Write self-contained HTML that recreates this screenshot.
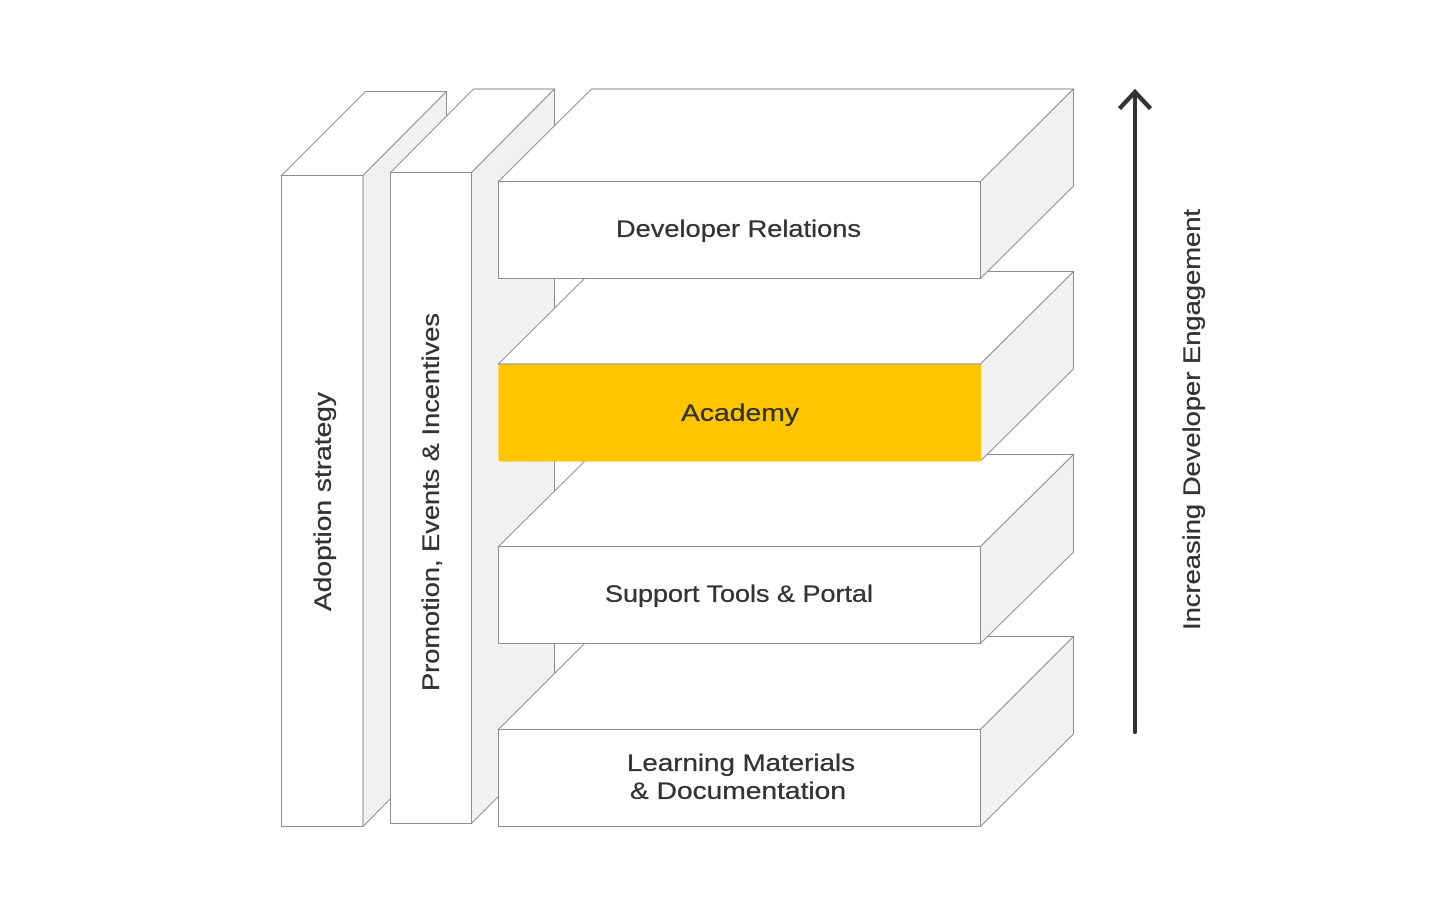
<!DOCTYPE html>
<html lang="en">
<head>
<meta charset="utf-8">
<title>Developer Engagement Diagram</title>
<style>
html,body{margin:0;padding:0;background:#fff;width:1440px;height:900px;overflow:hidden}
svg{display:block}
.f{fill:#fff;stroke:#8e8e8e;stroke-width:1}
.s{fill:#f1f1f1;stroke:#8e8e8e;stroke-width:1;stroke-linejoin:round}
text{font-family:"Liberation Sans",sans-serif;font-size:24px;fill:#333;stroke:#333;stroke-width:.3}
</style>
</head>
<body>
<svg width="1440" height="900" viewBox="0 0 1440 900" xmlns="http://www.w3.org/2000/svg">
<!-- Column 1 -->
<polygon class="f" points="281.5,175.5 365.5,91.5 446.5,91.5 363,175.5"/>
<polygon class="s" points="363,175.5 446.5,91.5 446.5,742 363,826.5"/>
<rect class="f" x="281.5" y="175.5" width="81.5" height="651"/>
<!-- Column 2 -->
<polygon class="f" points="390.5,172.5 473.5,89 554.5,89 471.5,172.5"/>
<polygon class="s" points="471.5,172.5 554.5,89 554.5,740 471.5,823.5"/>
<rect class="f" x="390.5" y="172.5" width="81" height="651"/>
<!-- Box 4 -->
<polygon class="f" points="498.5,729.5 591.5,636.5 1073.5,636.5 980.5,729.5"/>
<polygon class="s" points="980.5,729.5 1073.5,636.5 1073.5,734 980.5,826.5"/>
<rect class="f" x="498.5" y="729.5" width="482" height="97"/>
<!-- Box 3 -->
<polygon class="f" points="498.5,546.5 591.5,454.5 1073.5,454.5 980.5,546.5"/>
<polygon class="s" points="980.5,546.5 1073.5,454.5 1073.5,552 980.5,643.5"/>
<rect class="f" x="498.5" y="546.5" width="482" height="97"/>
<!-- Box 2 -->
<polygon class="f" points="498.5,364 591.5,271.5 1073.5,271.5 980.5,364"/>
<polygon class="s" points="980.5,364 1073.5,271.5 1073.5,369 980.5,461"/>
<rect x="498.5" y="364.5" width="482.5" height="97" fill="#ffc600"/>
<!-- Box 1 -->
<polygon class="f" points="498.5,181.5 591.5,89 1073.5,89 980.5,181.5"/>
<polygon class="s" points="980.5,181.5 1073.5,89 1073.5,186 980.5,278.5"/>
<rect class="f" x="498.5" y="181.5" width="482" height="97"/>
<!-- Arrow -->
<line x1="1135" y1="732" x2="1135" y2="92" stroke="#333" stroke-width="4" stroke-linecap="round"/>
<polyline points="1121,107 1135,92 1149,107" fill="none" stroke="#333" stroke-width="4.5" stroke-linecap="square"/>
<!-- Labels -->
<text x="616" y="237" textLength="245" lengthAdjust="spacingAndGlyphs">Developer Relations</text>
<text x="681" y="421" textLength="118" lengthAdjust="spacingAndGlyphs">Academy</text>
<text x="605" y="602" textLength="268" lengthAdjust="spacingAndGlyphs">Support Tools &amp; Portal</text>
<text x="627" y="771" textLength="228" lengthAdjust="spacingAndGlyphs">Learning Materials</text>
<text x="630" y="799" textLength="216" lengthAdjust="spacingAndGlyphs">&amp; Documentation</text>
<text transform="translate(331,611) rotate(-90)" textLength="219" lengthAdjust="spacingAndGlyphs">Adoption strategy</text>
<text transform="translate(439,691) rotate(-90)" textLength="378" lengthAdjust="spacingAndGlyphs">Promotion, Events &amp; Incentives</text>
<text transform="translate(1200,630) rotate(-90)" textLength="421" lengthAdjust="spacingAndGlyphs">Increasing Developer Engagement</text>
</svg>
</body>
</html>
